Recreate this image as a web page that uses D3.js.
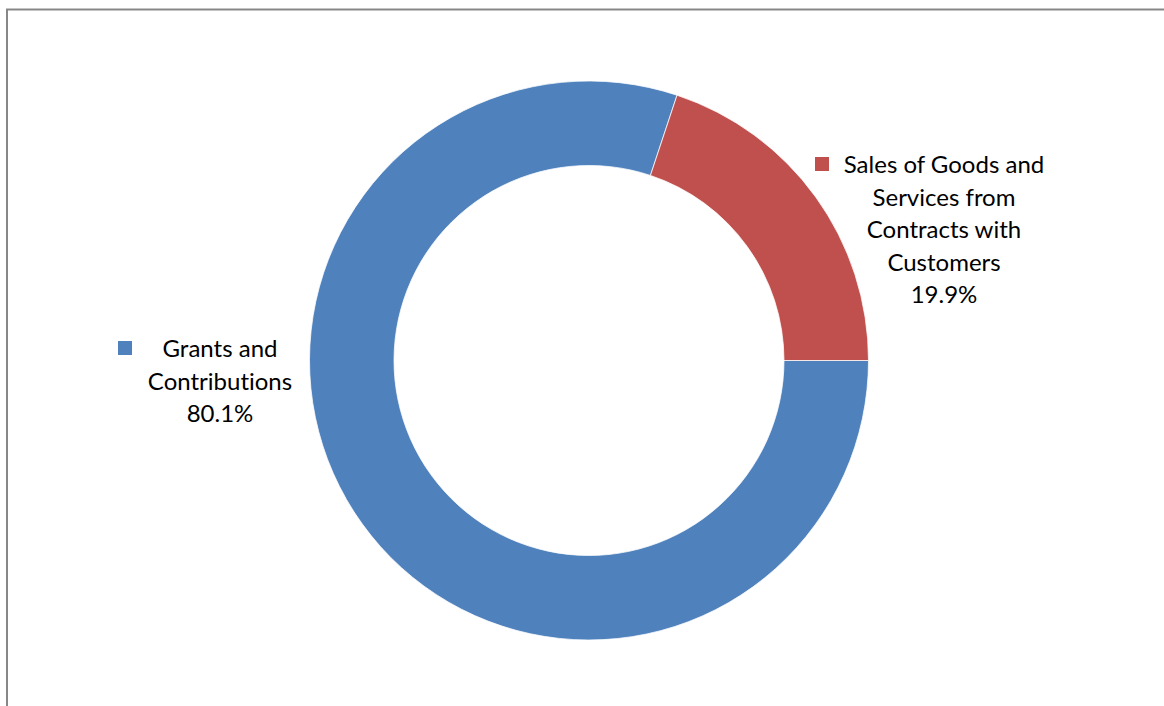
<!DOCTYPE html>
<html>
<head>
<meta charset="utf-8">
<script src="https://cdn.jsdelivr.net/npm/d3@7"></script>
<style>
  body { margin: 0; background: #fff; }
  text { font-family: Lato, "Open Sans", sans-serif; font-size: 24px; fill: #000; font-variant-ligatures: none; }
</style>
</head>
<body>
<script>
// set up SVG
var w = 1164;
var h = 706;

// data
var categories = ["Grants and Contributions", "Sales of Goods and Services from Contracts with Customers"];
var values = [80.1, 19.9];
var pctLabels = ["80.1%", "19.9%"];
var labelLines = [
    ["Grants and", "Contributions", "80.1%"],
    ["Sales of Goods and", "Services from", "Contracts with", "Customers", "19.9%"]
];
var colors = ["#4F81BD", "#C0504D"];

// donut geometry
var cx = 589;
var cy = 360.5;
var rOut = 279.5;
var rIn = 195;

// label anchors (center x, first baseline y), key square position
var labelPos = [
    { x: 220, y: 357, keyX: 118, keyY: 341 },
    { x: 944, y: 173, keyX: 815, keyY: 157 }
];
var lineH = 32.5;

var svg = d3.select("body")
            .append("svg")
            .attr("width", w)
            .attr("height", h);

// chart frame
svg.append("rect")
   .attr("x", 7)
   .attr("y", 9.5)
   .attr("width", w + 20)
   .attr("height", h + 20)
   .attr("fill", "none")
   .attr("stroke", "#878787")
   .attr("stroke-width", 2);

// pie starts at 3 o'clock, clockwise
var pie = d3.pie()
            .sort(null)
            .startAngle(Math.PI / 2)
            .endAngle(Math.PI / 2 + 2 * Math.PI);

var arc = d3.arc()
            .innerRadius(rIn)
            .outerRadius(rOut);

svg.append("g")
   .attr("transform", "translate(" + cx + "," + cy + ")")
   .selectAll("path")
   .data(pie(values))
   .enter()
   .append("path")
   .attr("d", arc)
   .attr("fill", function(d, i) { return colors[i]; })
   .attr("stroke", "#fff")
   .attr("stroke-width", 0.75);

// labels
labelLines.forEach(function(lines, i) {
    var p = labelPos[i];
    svg.append("rect")
       .attr("x", p.keyX)
       .attr("y", p.keyY)
       .attr("width", 14)
       .attr("height", 14)
       .attr("fill", colors[i]);
    var t = svg.append("text")
               .attr("text-anchor", "middle");
    lines.forEach(function(l, j) {
        t.append("tspan")
         .attr("x", p.x)
         .attr("y", p.y + j * lineH)
         .text(l);
    });
});
</script>
</body>
</html>
